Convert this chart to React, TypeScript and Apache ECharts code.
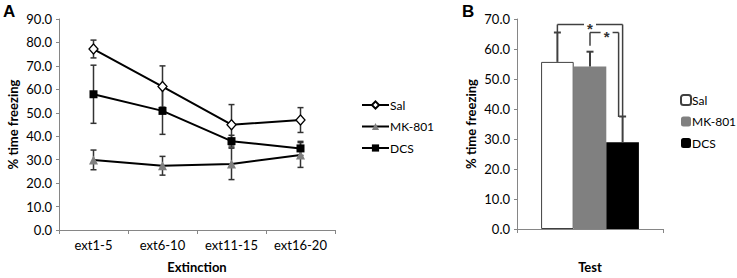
import React, { useEffect, useRef } from "react";
import * as echarts from "echarts";

// ---- Panel A data (Extinction) ----
const categories = ["ext1-5", "ext6-10", "ext11-15", "ext16-20"];
const salMean = [77.2, 61.2, 44.9, 46.9];
const salErr = [3.8, 8.8, 8.6, 5.3];
const mkMean = [29.9, 27.4, 28.2, 32.0];
const mkErr = [4.2, 4.0, 6.7, 5.3];
const dcsMean = [57.9, 50.8, 37.9, 34.8];
const dcsErr = [12.4, 10.0, 2.5, 3.0];
const yTicksA = { min: 0, max: 90, interval: 10 };

// ---- Panel B data (Test) ----
const groups = ["Sal", "MK-801", "DCS"];
const testMean = [55.7, 54.2, 28.9];
const testErr = [9.8, 4.9, 8.6];
const yTicksB = { min: 0, max: 70, interval: 10 };
const comparisons = [
  { from: 0, to: 2, label: "*" },
  { from: 1, to: 2, label: "*" },
];

const FONT = "Lato";
const AXIS_COLOR = "#868686";
const ERR_COLOR = "#333333";

function errorBarSeries(mean: number[], err: number[]) {
  return {
    type: "custom",
    silent: true,
    z: 1,
    itemStyle: { color: ERR_COLOR },
    data: mean.map((m, i) => [i, m, err[i]]),
    encode: { x: 0, y: 1 },
    renderItem: (params: any, api: any) => {
      const i = api.value(0);
      const m = api.value(1);
      const e = api.value(2);
      const top = api.coord([i, m + e]);
      const bot = api.coord([i, m - e]);
      const cw = 3;
      const style = { stroke: ERR_COLOR, lineWidth: 1.5 };
      return {
        type: "group",
        children: [
          { type: "line", shape: { x1: top[0], y1: top[1], x2: bot[0], y2: bot[1] }, style },
          { type: "line", shape: { x1: top[0] - cw, y1: top[1], x2: top[0] + cw, y2: top[1] }, style },
          { type: "line", shape: { x1: bot[0] - cw, y1: bot[1], x2: bot[0] + cw, y2: bot[1] }, style },
        ],
      };
    },
  };
}

function axisCommon() {
  return {
    axisLine: { show: true, lineStyle: { color: AXIS_COLOR, width: 1 } },
    axisTick: { show: true, lineStyle: { color: AXIS_COLOR } },
    splitLine: { show: false },
  };
}

const nameStyle = { fontFamily: FONT, fontWeight: "bold", fontSize: 13, color: "#000" };
const labelStyle = { fontFamily: FONT, fontSize: 13, color: "#000" };
const legendText = { fontFamily: FONT, fontSize: 12, color: "#000" };

function optionA(): any {
  return {
    animation: false,
    textStyle: { fontFamily: FONT },
    grid: { left: 59, top: 19, width: 276, height: 214 },
    graphic: [
      { type: "text", left: 3, top: 3, style: { text: "A", font: "bold 17px Arial", fill: "#000" } },
    ],
    legend: {
      orient: "vertical",
      left: 356,
      top: 94,
      itemGap: 9.5,
      itemWidth: 27,
      itemHeight: 9,
      data: ["Sal", "MK-801", "DCS"],
      textStyle: { ...legendText, padding: [0, 0, 0, -4] },
    },
    xAxis: {
      type: "category",
      data: categories,
      ...axisCommon(),
      axisTick: { show: true, length: 4, lineStyle: { color: AXIS_COLOR } },
      axisLabel: { ...labelStyle, margin: 8, interval: 0 },
      name: "Extinction",
      nameLocation: "middle",
      nameGap: 30,
      nameTextStyle: nameStyle,
    },
    yAxis: {
      type: "value",
      ...yTicksA,
      ...axisCommon(),
      axisTick: { show: true, length: 3, lineStyle: { color: AXIS_COLOR } },
      axisLabel: { ...labelStyle, margin: 7, formatter: (v: number) => v.toFixed(1) },
      name: "% time freezing",
      nameLocation: "middle",
      nameGap: 40,
      nameTextStyle: nameStyle,
    },
    series: [
      errorBarSeries(salMean, salErr),
      errorBarSeries(mkMean, mkErr),
      errorBarSeries(dcsMean, dcsErr),
      {
        name: "Sal",
        type: "line",
        data: salMean,
        symbol: "diamond",
        symbolSize: [9, 10],
        z: 3,
        lineStyle: { color: "#000", width: 2 },
        itemStyle: { color: "#fff", borderColor: "#000", borderWidth: 1.3 },
      },
      {
        name: "MK-801",
        type: "line",
        data: mkMean,
        symbol: "triangle",
        symbolSize: 9,
        z: 3,
        lineStyle: { color: "#000", width: 2 },
        itemStyle: { color: "#808080", borderWidth: 0 },
      },
      {
        name: "DCS",
        type: "line",
        data: dcsMean,
        symbol: "rect",
        symbolSize: 8,
        z: 3,
        lineStyle: { color: "#000", width: 2 },
        itemStyle: { color: "#000" },
      },
    ],
  };
}

const barColors = ["#ffffff", "#808080", "#000000"];
const CAT_GAP = 0.33;

function barCenterFrom(catX: number, band: number, idx: number) {
  const bw = (band * (1 - CAT_GAP)) / groups.length;
  return catX + (idx - (groups.length - 1) / 2) * bw;
}

function optionB(): any {
  return {
    animation: false,
    textStyle: { fontFamily: FONT },
    grid: { left: 517, top: 19, width: 146, height: 214 },
    legend: {
      orient: "vertical",
      left: 675,
      top: 89,
      itemGap: 9.5,
      itemWidth: 10,
      itemHeight: 10,
      data: groups,
      textStyle: { ...legendText, padding: [0, 0, 0, -4] },
    },
    xAxis: {
      type: "category",
      data: ["Test"],
      ...axisCommon(),
      axisTick: { show: true, length: 4, lineStyle: { color: AXIS_COLOR } },
      axisLabel: { show: false },
      name: "Test",
      nameLocation: "middle",
      nameGap: 31,
      nameTextStyle: nameStyle,
    },
    yAxis: {
      type: "value",
      ...yTicksB,
      ...axisCommon(),
      axisTick: { show: true, length: 3, lineStyle: { color: AXIS_COLOR } },
      axisLabel: { ...labelStyle, margin: 7, formatter: (v: number) => v.toFixed(1) },
      name: "% time freezing",
      nameLocation: "middle",
      nameGap: 40,
      nameTextStyle: nameStyle,
    },
    series: [
      ...groups.map((g, i) => ({
        name: g,
        type: "bar",
        data: [testMean[i]],
        barGap: "0%",
        barCategoryGap: CAT_GAP * 100 + "%",
        itemStyle: { color: barColors[i], borderColor: "#404040", borderWidth: i === 0 ? 1 : 0 },
      })),
      {
        type: "custom",
        silent: true,
        z: 3,
        itemStyle: { color: "#404040" },
        data: testMean.map((m, i) => [0, m, testErr[i], i]),
        encode: { x: 0, y: 1 },
        renderItem: (params: any, api: any) => {
          const m = api.value(1);
          const e = api.value(2);
          const idx = api.value(3);
          const x = barCenterFrom(api.coord([0, 0])[0], api.size([1, 0])[0], idx);
          const yb = api.coord([0, m])[1];
          const yt = api.coord([0, m + e])[1];
          const style = { stroke: "#404040", lineWidth: 2 };
          return {
            type: "group",
            children: [
              { type: "line", shape: { x1: x, y1: yb, x2: x, y2: yt }, style },
              { type: "line", shape: { x1: x - 3.5, y1: yt, x2: x + 3.5, y2: yt }, style },
            ],
          };
        },
      },
    ],
  };
}

function bracketGraphics(chart: any): any[] {
  const px = (v: number) => chart.convertToPixel({ gridIndex: 0 }, [0, v]);
  const catX = px(0)[0];
  const gridRect = chart.getModel().getComponent("grid", 0).coordinateSystem.getRect();
  const band = gridRect.width / 1; // one category on the x axis
  const tops = testMean.map((m, i) => px(m + testErr[i])[1]);
  const style = { stroke: "#404040", lineWidth: 1.5 };
  const out: any[] = [
    { type: "text", left: 462, top: 3, style: { text: "B", font: "bold 17px Arial", fill: "#000" } },
  ];
  comparisons.forEach((c, k) => {
    const isOuter = k === 0;
    const xl = barCenterFrom(catX, band, c.from);
    const xr = barCenterFrom(catX, band, c.to) - (isOuter ? 0 : 4);
    const yh = isOuter ? tops[c.from] - 8 : tops[0];
    const yl = isOuter ? tops[c.from] : tops[c.from] - 6;
    const yr = tops[c.to] + 0.5;
    const xm = isOuter ? (xl + xr) / 2 : xl + (xr - xl) * 0.58;
    const gap = 6;
    out.push(
      { type: "line", silent: true, shape: { x1: xl, y1: yl, x2: xl, y2: yh }, style },
      { type: "line", silent: true, shape: { x1: xl, y1: yh, x2: xm - gap, y2: yh }, style },
      { type: "line", silent: true, shape: { x1: xm + gap, y1: yh, x2: xr, y2: yh }, style },
      { type: "line", silent: true, shape: { x1: xr, y1: yh, x2: xr, y2: yr }, style },
      {
        type: "text",
        silent: true,
        x: xm,
        y: yh + 4,
        style: {
          text: c.label,
          font: "bold 15px Arial",
          fill: "#333333",
          align: "center",
          verticalAlign: "middle",
        },
      }
    );
  });
  return out;
}

export default function App() {
  const refA = useRef<HTMLDivElement>(null);
  const refB = useRef<HTMLDivElement>(null);
  useEffect(() => {
    const a = echarts.init(refA.current!, null, { renderer: "svg" });
    const b = echarts.init(refB.current!, null, { renderer: "svg" });
    a.setOption(optionA());
    b.setOption(optionB());
    b.setOption({ graphic: bracketGraphics(b) });
    return () => {
      a.dispose();
      b.dispose();
    };
  }, []);
  return (
    <div style={{ position: "fixed", left: 0, top: 0, width: 737, height: 278, background: "#fff" }}>
      <div ref={refA} style={{ position: "absolute", left: 0, top: 0, width: 737, height: 278 }} />
      <div ref={refB} style={{ position: "absolute", left: 0, top: 0, width: 737, height: 278 }} />
    </div>
  );
}
